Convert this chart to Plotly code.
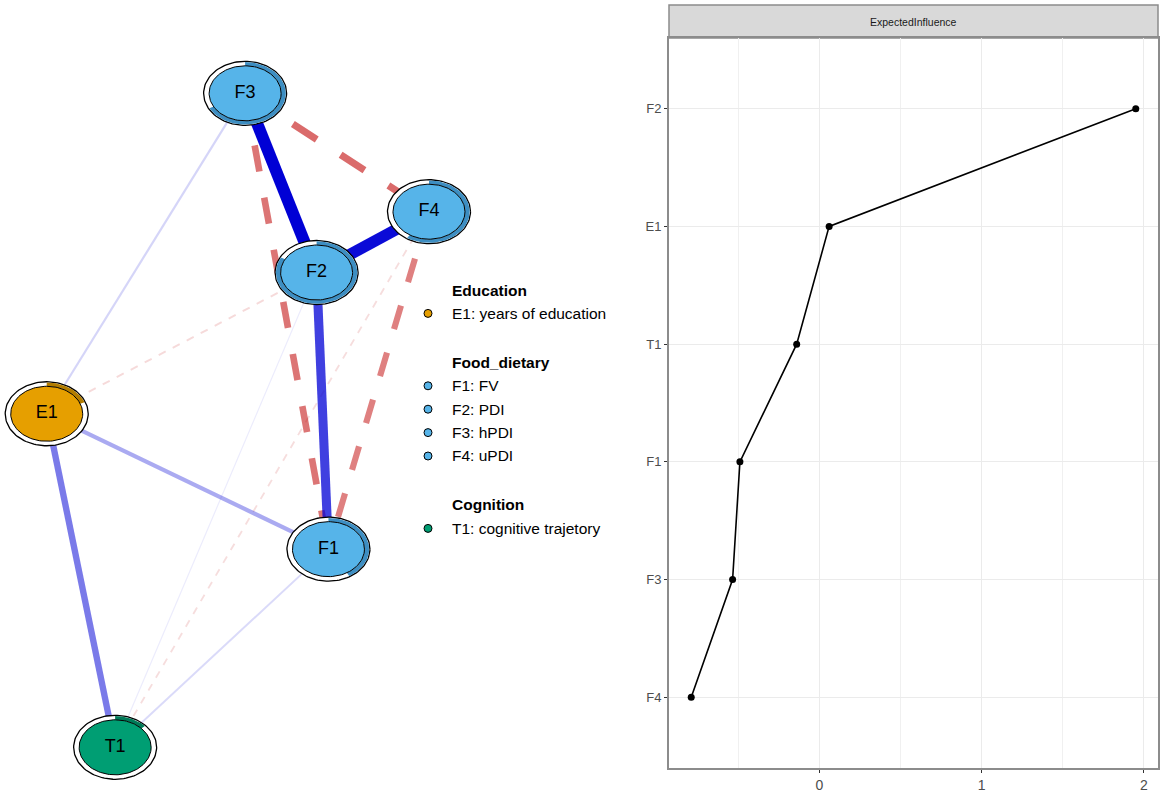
import numpy as np
import plotly.graph_objects as go

W, H = 1169, 794
FONT = "Liberation Sans, Arial, sans-serif"

# ---------------- network data ----------------
nodes = ["E1", "T1", "F3", "F2", "F1", "F4"]
node_x = [0.000, 0.179, 0.519, 0.706, 0.737, 1.000]
node_y = [0.510, 0.000, 1.000, 0.726, 0.303, 0.819]
node_group = ["Education", "Cognition", "Food_dietary", "Food_dietary", "Food_dietary", "Food_dietary"]
node_pred = [0.19, 0.13, 0.67, 0.83, 0.415, 0.59]

edge_from = ["F3", "F2", "F2", "F3", "F3", "F4", "E1", "E1", "E1", "F1", "E1", "F4", "F2"]
edge_to = ["F2", "F4", "F1", "F4", "F1", "F1", "T1", "F1", "F3", "T1", "F2", "T1", "T1"]
edge_w = [0.45, 0.43, 0.33, -0.25, -0.23, -0.21, 0.22, 0.13, 0.05, 0.04, -0.04, -0.035, 0.008]

groups = ["Education", "Food_dietary", "Cognition"]
group_fill = {"Education": "#E69F00", "Food_dietary": "#56B4E9", "Cognition": "#009E73"}
group_arc = {"Education": "#B27C00", "Food_dietary": "#3D8EC2", "Cognition": "#007A58"}
legend_nodes = ["E1", "F1", "F2", "F3", "F4", "T1"]
legend_labels = {"E1": "years of education", "F1": "FV", "F2": "PDI", "F3": "hPDI",
                 "F4": "uPDI", "T1": "cognitive trajetory"}

# ---------------- centrality data ----------------
ei_nodes = ["F4", "F3", "F1", "T1", "E1", "F2"]
ei_values = [-0.79, -0.535, -0.49, -0.14, 0.06, 1.95]
ei_ticks = [0, 1, 2]

# ---------------- geometry of left panel ----------------
LEFT_W = 640
xr = [-0.1222, 1.552]
yr = [-0.0714, 1.1427]
PX = LEFT_W / (xr[1] - xr[0])   # pixels per x unit
PY = H / (yr[1] - yr[0])        # pixels per y unit

pos = {n: (x, y) for n, x, y in zip(nodes, node_x, node_y)}

fig = go.Figure()

# edges (weakest first)
maxw = max(abs(w) for w in edge_w)
order = np.argsort([abs(w) for w in edge_w])
for i in order:
    a, b, w = edge_from[i], edge_to[i], edge_w[i]
    rel = abs(w) / maxw
    alpha = 0.06 + 0.94 * rel
    width = 1 + 11 * rel
    if w > 0:
        col = f"rgba(0,0,213,{alpha:.3f})"
        dash = "solid"
    else:
        col = f"rgba(191,0,0,{alpha:.3f})"
        dash = f"{4*width:.1f}px,{4*width:.1f}px"
    fig.add_trace(go.Scatter(
        x=[pos[a][0], pos[b][0]], y=[pos[a][1], pos[b][1]],
        mode="lines", line=dict(color=col, width=width, dash=dash),
        hoverinfo="skip", showlegend=False, xaxis="x", yaxis="y"))

# nodes
RXO, RYO = 41.5 / PX, 32.0 / PY
RXI, RYI = 36.0 / PX, 27.5 / PY
th = np.linspace(0, 2 * np.pi, 121)
for n, g, p in zip(nodes, node_group, node_pred):
    cx, cy = pos[n]
    fig.add_trace(go.Scatter(
        x=cx + RXO * np.cos(th), y=cy + RYO * np.sin(th), mode="lines",
        fill="toself", fillcolor="white", line=dict(color="black", width=1.3),
        hoverinfo="skip", showlegend=False, xaxis="x", yaxis="y"))
    t = np.linspace(np.pi / 2, np.pi / 2 - 2 * np.pi * p, 80)
    ro_x, ro_y = RXO - 0.8 / PX, RYO - 0.8 / PY
    ax_ = np.concatenate([cx + ro_x * np.cos(t), cx + RXI * np.cos(t[::-1])])
    ay_ = np.concatenate([cy + ro_y * np.sin(t), cy + RYI * np.sin(t[::-1])])
    fig.add_trace(go.Scatter(
        x=ax_, y=ay_, mode="lines", fill="toself", fillcolor=group_arc[g],
        line=dict(width=0, color=group_arc[g]), hoverinfo="skip", showlegend=False,
        xaxis="x", yaxis="y"))
    fig.add_trace(go.Scatter(
        x=cx + RXI * np.cos(th), y=cy + RYI * np.sin(th), mode="lines",
        fill="toself", fillcolor=group_fill[g], line=dict(color="black", width=1),
        hoverinfo="skip", showlegend=False, xaxis="x", yaxis="y"))
    fig.add_trace(go.Scatter(
        x=[cx], y=[cy], mode="text", text=[n],
        textfont=dict(family=FONT, size=18, color="black"),
        hoverinfo="skip", showlegend=False, xaxis="x", yaxis="y"))

# ---------------- legend (manual) ----------------
annotations = []
shapes = []
ly = 290.0
LINE = 23.4
GAP = 49.0
dot_x, text_x = 428.0, 450.0
grp_of = dict(zip(nodes, node_group))
for gi, g in enumerate(groups):
    if gi > 0:
        ly += GAP - LINE
    annotations.append(dict(
        x=text_x / W, y=1 - ly / H, xref="paper", yref="paper", xanchor="left", yanchor="middle",
        text=f"<b>{g}</b>", showarrow=False, font=dict(family=FONT, size=15.5, color="black")))
    for n in [m for m in legend_nodes if grp_of[m] == g]:
        ly += LINE
        annotations.append(dict(
            x=text_x / W, y=1 - ly / H, xref="paper", yref="paper", xanchor="left", yanchor="middle",
            text=f"{n}: {legend_labels[n]}", showarrow=False,
            font=dict(family=FONT, size=15.5, color="black")))
        r = 4.0
        shapes.append(dict(
            type="circle", xref="paper", yref="paper",
            x0=(dot_x - r) / W, x1=(dot_x + r) / W, y0=1 - (ly + r) / H, y1=1 - (ly - r) / H,
            fillcolor=group_fill[g], line=dict(color="black", width=1)))
    ly += LINE

# ---------------- centrality panel ----------------
fig.add_trace(go.Scatter(
    x=ei_values, y=ei_nodes, mode="lines+markers",
    line=dict(color="black", width=1.6), marker=dict(color="black", size=7),
    hoverinfo="skip", showlegend=False, xaxis="x2", yaxis="y2"))

P_L, P_R, P_T, P_B = 669, 1158, 38, 768
STRIP_T = 5
shapes.append(dict(
    type="rect", xref="paper", yref="paper",
    x0=P_L / W, x1=P_R / W, y0=1 - P_T / H, y1=1 - STRIP_T / H,
    fillcolor="#D9D9D9", line=dict(color="#8C8C8C", width=1.5), layer="below"))
annotations.append(dict(
    x=(P_L + P_R) / 2 / W, y=1 - (P_T + STRIP_T) / 2 / H, xref="paper", yref="paper",
    text="ExpectedInfluence", showarrow=False, xanchor="center", yanchor="middle",
    font=dict(family=FONT, size=10.5, color="#1A1A1A")))

span = max(ei_values) - min(ei_values)
x2range = [min(ei_values) - 0.05 * span, max(ei_values) + 0.05 * span]

fig.update_layout(
    width=W, height=H, autosize=False,
    margin=dict(l=0, r=0, t=0, b=0, pad=0),
    paper_bgcolor="white", plot_bgcolor="white",
    showlegend=False,
    xaxis=dict(domain=[0, LEFT_W / W], range=xr, visible=False, fixedrange=True),
    yaxis=dict(domain=[0, 1], range=yr, visible=False, fixedrange=True),
    xaxis2=dict(domain=[P_L / W, P_R / W], range=x2range, anchor="y2",
                tickvals=ei_ticks, ticktext=[str(v) for v in ei_ticks],
                showgrid=True, gridcolor="#EBEBEB", gridwidth=1.3,
                minor=dict(tickvals=[-0.5, 0.5, 1.5], showgrid=True, gridcolor="#F0F0F0",
                           gridwidth=1, ticklen=0),
                zeroline=False, showline=True, linecolor="#8C8C8C", linewidth=2, mirror=True,
                ticks="outside", ticklen=3, tickwidth=1.2, tickcolor="#333333",
                tickfont=dict(family=FONT, size=14, color="#4D4D4D")),
    yaxis2=dict(domain=[1 - P_B / H, 1 - P_T / H], anchor="x2",
                type="category", categoryorder="array", categoryarray=ei_nodes,
                range=[-0.6, len(ei_nodes) - 0.4],
                showgrid=True, gridcolor="#EBEBEB", gridwidth=1.3,
                zeroline=False, showline=True, linecolor="#8C8C8C", linewidth=2, mirror=True,
                ticks="outside", ticklen=3, tickwidth=1.2, tickcolor="#333333",
                tickfont=dict(family=FONT, size=13, color="#4D4D4D")),
    shapes=shapes, annotations=annotations,
)

fig.write_html("out.html", config={"displayModeBar": False},
               post_script="document.body.style.margin='0';document.body.style.overflow='hidden';")
